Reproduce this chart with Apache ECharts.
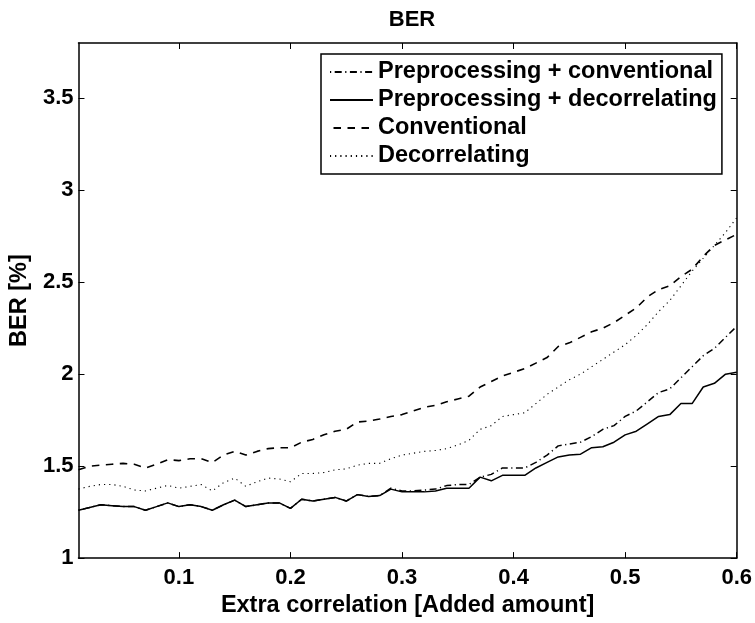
<!DOCTYPE html>
<html>
<head>
<meta charset="utf-8">
<script src="https://cdn.jsdelivr.net/npm/echarts@6/dist/echarts.min.js"></script>
<style>
html,body{margin:0;padding:0;background:#fff;}
#chart{width:755px;height:623px;}
</style>
</head>
<body>
<div id="chart"></div>
<script>
const xValues = [0.01,0.02,0.03,0.04,0.05,0.06,0.07,0.08,0.09,0.10,
  0.11,0.12,0.13,0.14,0.15,0.16,0.17,0.18,0.19,0.20,
  0.21,0.22,0.23,0.24,0.25,0.26,0.27,0.28,0.29,0.30,
  0.31,0.32,0.33,0.34,0.35,0.36,0.37,0.38,0.39,0.40,
  0.41,0.42,0.43,0.44,0.45,0.46,0.47,0.48,0.49,0.50,
  0.51,0.52,0.53,0.54,0.55,0.56,0.57,0.58,0.59,0.60];

const preConventional = [1.26,1.275,1.29,1.285,1.28,1.28,1.26,1.28,1.30,1.28,
  1.29,1.28,1.26,1.29,1.315,1.28,1.29,1.30,1.30,1.27,
  1.32,1.31,1.32,1.33,1.31,1.345,1.335,1.34,1.38,1.365,
  1.365,1.37,1.375,1.394,1.40,1.40,1.44,1.455,1.49,1.49,
  1.49,1.52,1.56,1.61,1.62,1.63,1.66,1.70,1.72,1.77,
  1.80,1.85,1.90,1.92,1.98,2.04,2.10,2.14,2.20,2.26];

const preDecorrelating = [1.26,1.275,1.29,1.285,1.28,1.28,1.26,1.28,1.30,1.28,
  1.29,1.28,1.26,1.29,1.315,1.28,1.29,1.30,1.30,1.27,
  1.32,1.31,1.32,1.33,1.31,1.345,1.335,1.34,1.375,1.36,
  1.36,1.36,1.365,1.38,1.38,1.38,1.44,1.42,1.45,1.45,
  1.45,1.49,1.52,1.55,1.56,1.565,1.60,1.605,1.63,1.67,
  1.69,1.73,1.77,1.78,1.84,1.84,1.93,1.95,2.00,2.01];

const conventional = [1.48,1.50,1.505,1.51,1.515,1.51,1.49,1.51,1.535,1.53,
  1.54,1.54,1.52,1.56,1.58,1.56,1.58,1.595,1.60,1.60,
  1.63,1.645,1.67,1.69,1.70,1.74,1.745,1.756,1.77,1.78,
  1.80,1.82,1.83,1.85,1.865,1.88,1.93,1.96,1.99,2.01,
  2.03,2.06,2.09,2.15,2.17,2.20,2.23,2.25,2.28,2.32,
  2.36,2.42,2.46,2.48,2.53,2.57,2.64,2.70,2.73,2.76];

const decorrelating = [1.375,1.39,1.40,1.40,1.39,1.37,1.365,1.38,1.395,1.38,
  1.39,1.40,1.365,1.41,1.435,1.39,1.415,1.435,1.43,1.415,
  1.46,1.46,1.465,1.48,1.485,1.505,1.515,1.515,1.54,1.56,
  1.57,1.58,1.585,1.595,1.615,1.64,1.70,1.72,1.77,1.78,
  1.79,1.84,1.89,1.93,1.97,2.00,2.04,2.08,2.12,2.16,
  2.21,2.27,2.34,2.40,2.48,2.56,2.63,2.70,2.77,2.85];

const seriesNames = ['Preprocessing + conventional','Preprocessing + decorrelating','Conventional','Decorrelating'];
const xTicks = [0.1,0.2,0.3,0.4,0.5,0.6];
const yTicks = [1,1.5,2,2.5,3,3.5];

const FONT = 'Liberation Sans';
const axisLineStyle = {color:'#000', width:1.5};
const tickStyle = {color:'#000', width:1};

function pairs(arr){ return xValues.map((x,i)=>[x, arr[i]]); }

const chart = echarts.init(document.getElementById('chart'), null, {renderer:'canvas'});
chart.setOption({
  animation:false,
  backgroundColor:'#fff',
  title:{
    text:'BER', left:407, top:4, textAlign:'center',
    textStyle:{fontFamily:FONT, fontWeight:'bold', fontSize:22, color:'#000'}
  },
  grid:{left:77, right:18, top:43, bottom:60},
  legend:{
    orient:'vertical', left:321, top:54,
    padding:[6,5,6,8], itemGap:4, itemWidth:43, itemHeight:14,
    borderColor:'#000', borderWidth:1.5, backgroundColor:'#fff',
    itemStyle:{color:'rgba(0,0,0,0)', borderWidth:0, opacity:0},
    textStyle:{fontFamily:FONT, fontWeight:'bold', fontSize:23.5, color:'#000', lineHeight:24},
    data:seriesNames
  },
  xAxis:[{
    type:'value', min:0.01, max:0.6, position:'bottom',
    axisLine:{show:true, onZero:false, lineStyle:axisLineStyle},
    axisTick:{show:true, inside:true, length:6, customValues:xTicks, lineStyle:tickStyle},
    axisLabel:{customValues:xTicks, margin:9, fontFamily:FONT, fontWeight:'bold', fontSize:22, color:'#000'},
    splitLine:{show:false},
    name:'Extra correlation [Added amount]', nameLocation:'middle', nameGap:32,
    nameTextStyle:{fontFamily:FONT, fontWeight:'bold', fontSize:23.5, color:'#000'}
  },{
    type:'value', min:0.01, max:0.6, position:'top',
    axisLine:{show:true, onZero:false, lineStyle:axisLineStyle},
    axisTick:{show:true, inside:true, length:6, customValues:xTicks, lineStyle:tickStyle},
    axisLabel:{show:false}, splitLine:{show:false}
  }],
  yAxis:[{
    type:'value', min:1, max:3.8, position:'left',
    axisLine:{show:true, onZero:false, lineStyle:axisLineStyle},
    axisTick:{show:true, inside:true, length:6, customValues:yTicks, lineStyle:tickStyle},
    axisLabel:{customValues:yTicks, margin:5, fontFamily:FONT, fontWeight:'bold', fontSize:22, color:'#000'},
    splitLine:{show:false},
    name:'BER [%]', nameLocation:'middle', nameGap:43,
    nameTextStyle:{fontFamily:FONT, fontWeight:'bold', fontSize:23.5, color:'#000'}
  },{
    type:'value', min:1, max:3.8, position:'right',
    axisLine:{show:true, onZero:false, lineStyle:axisLineStyle},
    axisTick:{show:true, inside:true, length:6, customValues:yTicks, lineStyle:tickStyle},
    axisLabel:{show:false}, splitLine:{show:false}
  }],
  series:[
    {name:seriesNames[0], type:'line', data:pairs(preConventional), symbol:'none',
     lineStyle:{color:'#000', width:1.5, type:[7,3.5,1.2,3.5], dashOffset:10.5}, itemStyle:{color:'#000'}},
    {name:seriesNames[1], type:'line', data:pairs(preDecorrelating), symbol:'none',
     lineStyle:{color:'#000', width:1.5, type:'solid'}, itemStyle:{color:'#000'}},
    {name:seriesNames[2], type:'line', data:pairs(conventional), symbol:'none',
     lineStyle:{color:'#000', width:1.6, type:[7.5,6.5]}, itemStyle:{color:'#000'}},
    {name:seriesNames[3], type:'line', data:pairs(decorrelating), symbol:'none',
     lineStyle:{color:'#000', width:1.1, type:[1.2,4]}, itemStyle:{color:'#000'}}
  ]
});
</script>
</body>
</html>
